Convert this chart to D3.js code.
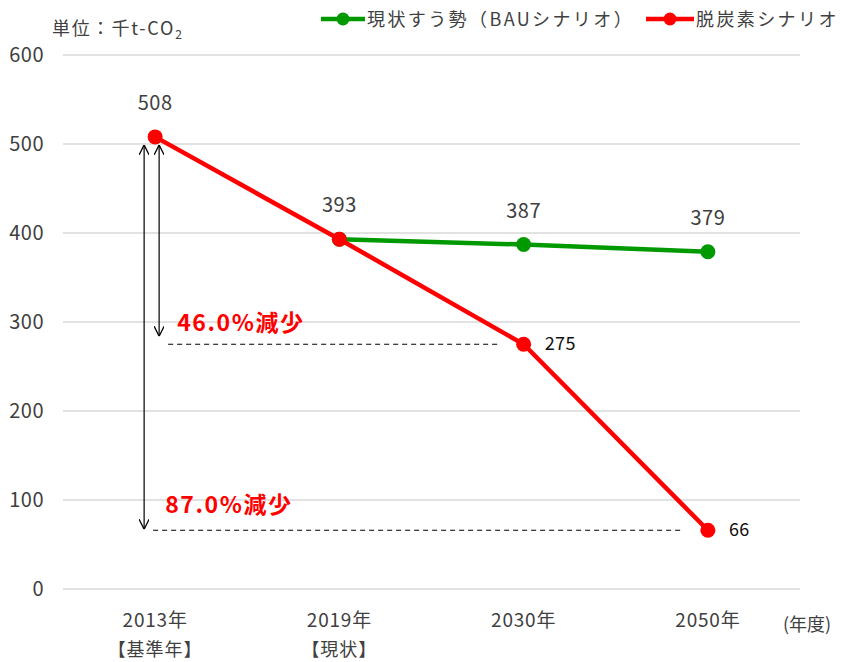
<!DOCTYPE html>
<html>
<head>
<meta charset="utf-8">
<script src="https://cdn.jsdelivr.net/npm/d3@7"></script>
<style>
  body { margin: 0; background: #fff; }
  svg { font-family: 'Noto Sans CJK JP', 'Noto Sans', sans-serif; }
</style>
</head>
<body>
<svg id="chart" width="841" height="662"></svg>
<script>
const years = ['2013年', '2019年', '2030年', '2050年']
const subLabels = ['【基準年】', '【現状】', '', '']
const bauYears = ['2019年', '2030年', '2050年']
const bauValues = [393, 387, 379]
const decarbValues = [508, 393, 275, 66]
const yTicks = [0, 100, 200, 300, 400, 500, 600]
const seriesNames = ['現状すう勢（BAUシナリオ）', '脱炭素シナリオ']
const reductions = [
  { label: '46.0%減少', target: 275 },
  { label: '87.0%減少', target: 66 }
]

const margin = { top: 55, right: 41, bottom: 73, left: 63 }
const width = 841 - margin.left - margin.right
const height = 662 - margin.top - margin.bottom

const svg = d3.select('#chart')
const g = svg.append('g').attr('transform', `translate(${margin.left},${margin.top})`)

const x = d3.scaleBand().domain(years).range([0, width])
const cx = (d) => x(d) + x.bandwidth() / 2
const y = d3.scaleLinear().domain([0, 600]).range([height, 0])

const textColor = '#404040'

// grid
g.selectAll('.grid')
  .data(yTicks)
  .join('line')
  .attr('x1', 0)
  .attr('x2', width)
  .attr('y1', (d) => y(d))
  .attr('y2', (d) => y(d))
  .attr('stroke', '#d9d9d9')
  .attr('stroke-width', 1.3)

// y axis labels
g.append('g')
  .call(d3.axisLeft(y).tickValues(yTicks).tickSize(0).tickPadding(19))
  .call((s) => s.select('.domain').remove())
  .call((s) => s.selectAll('text').attr('font-size', 20).attr('letter-spacing', 0.5).attr('fill', textColor)
    .style('font-family', "'Noto Sans CJK JP', sans-serif"))

// x axis labels
const xl = g.append('g').attr('transform', `translate(0,${height})`)
xl.selectAll('.yr')
  .data(years)
  .join('text')
  .attr('x', (d) => cx(d))
  .attr('y', 38)
  .attr('text-anchor', 'middle')
  .attr('font-size', 19)
  .attr('letter-spacing', 0.8)
  .attr('fill', textColor)
  .text((d) => d)
xl.selectAll('.sub')
  .data(subLabels)
  .join('text')
  .attr('x', (d, i) => cx(years[i]))
  .attr('y', 67)
  .attr('text-anchor', 'middle')
  .attr('font-size', 18)
  .attr('letter-spacing', 1)
  .attr('fill', textColor)
  .text((d) => d)
xl.append('text')
  .attr('x', width - 17)
  .attr('y', 42)
  .attr('font-size', 18)
  .attr('fill', textColor)
  .text('(年度)')

// unit label
const unit = svg.append('text').attr('x', 52).attr('y', 35).attr('font-size', 18)
  .attr('letter-spacing', 1.8).attr('fill', textColor)
unit.append('tspan').text('単位：千t-CO')
unit.append('tspan').attr('font-size', 12).attr('dy', 4).text('2')

// reduction annotations
const base = decarbValues[0]
const arrowX = [cx(years[0]) - 11, cx(years[0]) + 4]
svg.append('defs').append('marker')
  .attr('id', 'arr')
  .attr('viewBox', '0 0 10 10')
  .attr('refX', 10)
  .attr('refY', 5)
  .attr('markerWidth', 10)
  .attr('markerHeight', 10)
  .attr('markerUnits', 'userSpaceOnUse')
  .attr('orient', 'auto-start-reverse')
  .append('path')
  .attr('d', 'M0,0 L10,5 L0,10')
  .attr('fill', 'none')
  .attr('stroke', '#000')
  .attr('stroke-width', 1.3)

const annoText = (s) => s.attr('font-size', 23).attr('font-weight', 'bold')
  .attr('letter-spacing', 1.6).attr('fill', '#ff0000')

// 46% : short arrow, dashed to 2030
g.append('line')
  .attr('x1', arrowX[1]).attr('x2', arrowX[1])
  .attr('y1', y(base) + 8).attr('y2', y(reductions[0].target) - 8)
  .attr('stroke', '#000').attr('stroke-width', 1.2)
  .attr('marker-start', 'url(#arr)').attr('marker-end', 'url(#arr)')
g.append('line')
  .attr('x1', arrowX[1] + 9).attr('x2', cx(years[2]) - 24)
  .attr('y1', y(reductions[0].target)).attr('y2', y(reductions[0].target))
  .attr('stroke', '#000').attr('stroke-width', 1.2).attr('stroke-dasharray', '5,4')
g.append('text')
  .attr('x', arrowX[1] + 18)
  .attr('y', y(reductions[0].target) - 13)
  .call(annoText)
  .text(reductions[0].label)

// 87% : long arrow, dashed to 2050
g.append('line')
  .attr('x1', arrowX[0]).attr('x2', arrowX[0])
  .attr('y1', y(base) + 8).attr('y2', y(reductions[1].target) - 1)
  .attr('stroke', '#000').attr('stroke-width', 1.2)
  .attr('marker-start', 'url(#arr)').attr('marker-end', 'url(#arr)')
g.append('line')
  .attr('x1', arrowX[0] + 9).attr('x2', cx(years[3]) - 24)
  .attr('y1', y(reductions[1].target)).attr('y2', y(reductions[1].target))
  .attr('stroke', '#000').attr('stroke-width', 1.2).attr('stroke-dasharray', '5,4')
g.append('text')
  .attr('x', arrowX[0] + 21)
  .attr('y', y(reductions[1].target) - 17)
  .call(annoText)
  .text(reductions[1].label)

// lines
const line = d3.line().x((d) => cx(d.year)).y((d) => y(d.value))
const bauData = bauYears.map((d, i) => ({ year: d, value: bauValues[i] }))
const decData = years.map((d, i) => ({ year: d, value: decarbValues[i] }))

const green = '#009a00'
const red = '#ff0000'

g.append('path').datum(bauData)
  .attr('fill', 'none').attr('stroke', green).attr('stroke-width', 4.5).attr('d', line)
g.selectAll('.bauPt').data(bauData).join('circle')
  .attr('cx', (d) => cx(d.year)).attr('cy', (d) => y(d.value)).attr('r', 7.5).attr('fill', green)

g.append('path').datum(decData)
  .attr('fill', 'none').attr('stroke', red).attr('stroke-width', 4.5).attr('d', line)
g.selectAll('.decPt').data(decData).join('circle')
  .attr('cx', (d) => cx(d.year)).attr('cy', (d) => y(d.value)).attr('r', 7.5).attr('fill', red)

// data labels
const labelStyle = (s) => s.attr('font-size', 20).attr('letter-spacing', 0.5).attr('fill', textColor)
g.selectAll('.bauLbl').data(bauData).join('text')
  .attr('x', (d) => cx(d.year)).attr('y', (d) => y(d.value) - 27)
  .attr('text-anchor', 'middle').call(labelStyle).text((d) => d.value)
g.append('text')
  .attr('x', cx(years[0])).attr('y', y(decarbValues[0]) - 27)
  .attr('text-anchor', 'middle').call(labelStyle).text(decarbValues[0])
g.selectAll('.decLbl').data(decData.slice(2)).join('text')
  .attr('x', (d) => cx(d.year) + 21).attr('y', (d) => y(d.value) + 6)
  .attr('font-size', 18).attr('letter-spacing', 0.5).attr('fill', '#111').text((d) => d.value)

// legend
const legend = svg.append('g').attr('transform', 'translate(321,19)')
const legendItems = [
  { name: seriesNames[0], color: green, x: 0, w: 44 },
  { name: seriesNames[1], color: red, x: 325, w: 48 }
]
legendItems.forEach((it) => {
  const lg = legend.append('g').attr('transform', `translate(${it.x},0)`)
  lg.append('line').attr('x1', 0).attr('x2', it.w).attr('y1', 0).attr('y2', 0)
    .attr('stroke', it.color).attr('stroke-width', 4.5)
  lg.append('circle').attr('cx', it.w / 2).attr('cy', 0).attr('r', 6.5).attr('fill', it.color)
  lg.append('text').attr('x', it.w + 2).attr('y', 7).attr('font-size', 18)
    .attr('letter-spacing', 2.4).attr('fill', textColor).text(it.name)
})
</script>
</body>
</html>
